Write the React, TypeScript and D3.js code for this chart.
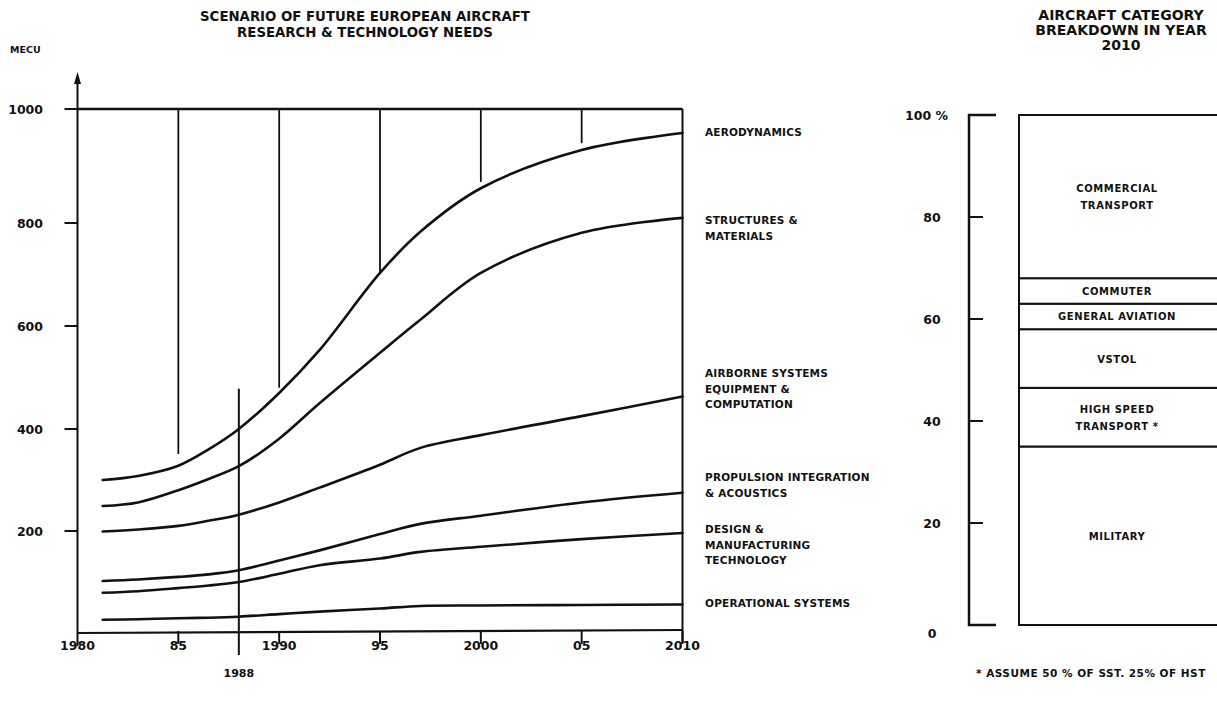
import React, { useEffect, useRef } from 'react';
import * as d3 from 'd3';

// ---- left chart: R&T needs, MECU ----
const years = [1981.25, 1983, 1985, 1986.5, 1988, 1990, 1992, 1995, 1997, 2000, 2005, 2010];

const aerodynamics = [300, 308, 328, 360, 400, 470, 553, 703, 783, 861, 928, 958];
const structures = [249, 256, 280, 302, 327, 381, 450, 548, 612, 703, 781, 809];
const airborne = [199, 203, 210, 220, 232, 256, 285, 330, 363, 388, 425, 463];
const propulsion = [102, 105, 110, 115, 123, 142, 162, 194, 214, 230, 256, 275];
const design = [79, 82, 88, 93, 100, 116, 133, 146, 159, 169, 184, 196];
const operational = [26, 27, 29, 30, 32, 37, 42, 48, 53, 54, 55, 56];

const seriesLabels = [
  ['AERODYNAMICS'],
  ['STRUCTURES &', 'MATERIALS'],
  ['AIRBORNE SYSTEMS', 'EQUIPMENT &', 'COMPUTATION'],
  ['PROPULSION INTEGRATION', '& ACOUSTICS'],
  ['DESIGN &', 'MANUFACTURING', 'TECHNOLOGY'],
  ['OPERATIONAL SYSTEMS'],
];
// level (MECU) the label block is centred on
const labelLevels = [960, 790, 478, 290, 173, 58];

const yTicks = [200, 400, 600, 800, 1000];
const xTicks = [1980, 1985, 1990, 1995, 2000, 2005, 2010];
const xTickLabels = ['1980', '85', '1990', '95', '2000', '05', '2010'];

// vertical drop lines hanging from the 1000 line
const dropYears = [1985, 1990, 1995, 2000, 2005];
const dropEnds = [351, 480, 705, 872, 940];
const markerYear = 1988;
const markerTop = 478;

// ---- right chart: category breakdown 2010, % ----
const categories = ['MILITARY', 'HIGH SPEED TRANSPORT', 'VSTOL', 'GENERAL AVIATION', 'COMMUTER', 'COMMERCIAL TRANSPORT'];
const categoryLines = [
  ['MILITARY'],
  ['HIGH SPEED', 'TRANSPORT *'],
  ['VSTOL'],
  ['GENERAL AVIATION'],
  ['COMMUTER'],
  ['COMMERCIAL', 'TRANSPORT'],
];
const shares = [35, 11.5, 11.5, 5, 5, 32];
const pctTicks = [0, 20, 40, 60, 80, 100];

const FONT = '"DejaVu Sans", sans-serif';

const App: React.FC = () => {
  const svgRef = useRef<SVGSVGElement>(null);

  useEffect(() => {
    if (!svgRef.current) return;
    const svg = d3.select(svgRef.current);
    svg.selectAll('*').remove();

    const ink = '#111';

    const x = d3.scaleLinear().domain([1980, 2010]).range([77.5, 682.5]);
    // hand drawn axis: spacing is not quite even, so a polylinear scale
    const y = d3.scaleLinear()
      .domain([0, 200, 400, 600, 800, 1000])
      .range([633, 531, 429, 326, 223, 109]);

    const g = svg.append('g').attr('font-family', FONT).attr('font-weight', 'bold').attr('fill', ink);

    // titles
    g.append('text').attr('x', 365).attr('y', 21).attr('text-anchor', 'middle')
      .attr('font-size', 13.3).text('SCENARIO OF FUTURE EUROPEAN AIRCRAFT');
    g.append('text').attr('x', 365).attr('y', 37).attr('text-anchor', 'middle')
      .attr('font-size', 13.3).text('RESEARCH & TECHNOLOGY NEEDS');
    g.append('text').attr('x', 10).attr('y', 53).attr('font-size', 9.5).text('MECU');

    const x0 = x(1980), x1 = x(2010), y0 = y(0), yTop = y(1000);

    // y axis with arrow
    g.append('line').attr('x1', x0).attr('x2', x0).attr('y1', 80).attr('y2', y0 + 13)
      .attr('stroke', ink).attr('stroke-width', 2);
    g.append('path').attr('d', `M${x0},72 L${x0 - 3.5},84 L${x0 + 3.5},84 Z`).attr('fill', ink);

    // y ticks + labels
    yTicks.forEach(v => {
      g.append('line').attr('x1', x0 - 13).attr('x2', x0).attr('y1', y(v)).attr('y2', y(v))
        .attr('stroke', ink).attr('stroke-width', 2);
      g.append('text').attr('x', 43).attr('y', y(v) + 4.5).attr('text-anchor', 'end')
        .attr('font-size', 12.5).text(String(v));
    });

    // top (1000) line, right border, bottom axis
    g.append('line').attr('x1', x0).attr('x2', x1).attr('y1', yTop).attr('y2', yTop)
      .attr('stroke', ink).attr('stroke-width', 2.4);
    g.append('line').attr('x1', x1).attr('x2', x1).attr('y1', yTop).attr('y2', y0 + 10)
      .attr('stroke', ink).attr('stroke-width', 2);
    g.append('line').attr('x1', x0).attr('x2', x1).attr('y1', y0).attr('y2', y0 - 3)
      .attr('stroke', ink).attr('stroke-width', 2.2);

    // x ticks + labels
    xTicks.forEach((t, i) => {
      if (i > 0) {
        g.append('line').attr('x1', x(t)).attr('x2', x(t)).attr('y1', y0 - 2).attr('y2', y0 + 11)
          .attr('stroke', ink).attr('stroke-width', 2);
      }
      g.append('text').attr('x', x(t)).attr('y', 650).attr('text-anchor', 'middle')
        .attr('font-size', 12.5).text(xTickLabels[i]);
    });

    // drop lines from the 1000 line
    dropYears.forEach((t, i) => {
      g.append('line').attr('x1', x(t)).attr('x2', x(t)).attr('y1', yTop).attr('y2', y(dropEnds[i]))
        .attr('stroke', ink).attr('stroke-width', 1.8);
    });

    // 1988 marker
    g.append('line').attr('x1', x(markerYear)).attr('x2', x(markerYear))
      .attr('y1', y(markerTop)).attr('y2', y0 + 22)
      .attr('stroke', ink).attr('stroke-width', 2);
    g.append('text').attr('x', x(markerYear)).attr('y', 677).attr('text-anchor', 'middle')
      .attr('font-size', 11).text(String(markerYear));

    // curves
    const series = [aerodynamics, structures, airborne, propulsion, design, operational];
    const line = d3.line<number>()
      .x((_, i) => x(years[i]))
      .y(d => y(d))
      .curve(d3.curveCatmullRom.alpha(0.5));
    series.forEach(s => {
      g.append('path').attr('d', line(s)).attr('fill', 'none')
        .attr('stroke', ink).attr('stroke-width', 2.6).attr('stroke-linecap', 'round');
    });

    // series labels
    seriesLabels.forEach((lines, i) => {
      const cy = y(labelLevels[i]);
      const lh = 15.5;
      const top = cy - (lines.length - 1) * lh / 2;
      lines.forEach((t, j) => {
        g.append('text').attr('x', 705).attr('y', top + j * lh + 4).attr('font-size', 10.5)
          .attr('letter-spacing', 0.2).text(t);
      });
    });

    // ---- right chart ----
    const yp = d3.scaleLinear().domain([0, 100]).range([625, 115]);
    const bx = 969;

    ['AIRCRAFT CATEGORY', 'BREAKDOWN IN YEAR', '2010'].forEach((t, i) => {
      g.append('text').attr('x', 1121).attr('y', 20 + i * 15).attr('text-anchor', 'middle')
        .attr('font-size', 14).text(t);
    });

    g.append('path')
      .attr('d', `M${bx + 27},${yp(100)} H${bx} V${yp(0)} H${bx + 27}`)
      .attr('fill', 'none').attr('stroke', ink).attr('stroke-width', 2.5);
    pctTicks.forEach(p => {
      if (p > 0 && p < 100) {
        g.append('line').attr('x1', bx).attr('x2', bx + 14).attr('y1', yp(p)).attr('y2', yp(p))
          .attr('stroke', ink).attr('stroke-width', 2);
      }
      g.append('text').attr('x', p === 100 ? 905 : 932).attr('y', yp(p) + (p === 0 ? 13 : 4.5))
        .attr('text-anchor', p === 100 ? 'start' : 'middle')
        .attr('font-size', 12.5).text(p === 100 ? '100 %' : String(p));
    });

    const ends = d3.cumsum(shares);
    const rx = 1019;
    categories.forEach((c, i) => {
      const lo = i === 0 ? 0 : ends[i - 1];
      const hi = ends[i];
      g.append('rect').attr('x', rx).attr('y', yp(hi)).attr('width', 260).attr('height', yp(lo) - yp(hi))
        .attr('fill', 'white').attr('stroke', ink).attr('stroke-width', 2).attr('data-cat', c);
      const lines = categoryLines[i];
      const cy = yp((lo + hi) / 2);
      const lh = 17;
      lines.forEach((t, j) => {
        g.append('text').attr('x', 1117).attr('y', cy - (lines.length - 1) * lh / 2 + j * lh + 4)
          .attr('text-anchor', 'middle').attr('font-size', 10).attr('letter-spacing', 0.6).text(t);
      });
    });

    g.append('text').attr('x', 976).attr('y', 677).attr('font-size', 10.5).attr('letter-spacing', 0.5)
      .text('* ASSUME 50 % OF SST. 25% OF HST');
  }, []);

  return (
    <div style={{ position: 'absolute', left: 0, top: 0, width: 1217, height: 701, background: '#fff', overflow: 'hidden' }}>
      <svg ref={svgRef} width={1217} height={701} style={{ display: 'block' }}></svg>
    </div>
  );
};

export default App;
